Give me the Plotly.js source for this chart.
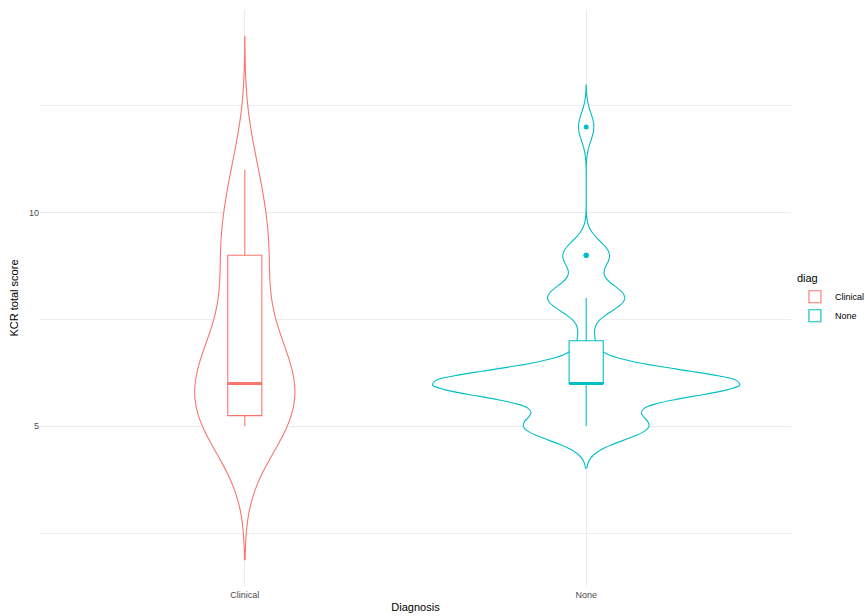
<!DOCTYPE html>
<html>
<head>
<meta charset="utf-8">
<script src="https://cdn.plot.ly/plotly-3.0.1.min.js"></script>
<style>
  html, body { margin: 0; padding: 0; background: #ffffff; }
  #chart { width: 865px; height: 616px; }
</style>
</head>
<body>
<div id="chart"></div>
<script>
// KCR total scores by diagnosis group
const categories = ['Clinical', 'None'];

const clinicalScores = [
  5, 5, 5, 5, 5, 5, 5,
  6, 6, 6, 6, 6, 6, 6,
  7, 7, 7, 7,
  8,
  9, 9, 9, 9,
  10, 10,
  11, 11
];

const noneScores = [
  5, 5, 5, 5, 5, 5, 5, 5,
  6, 6, 6, 6, 6, 6, 6, 6, 6, 6, 6, 6, 6, 6, 6, 6, 6, 6, 6, 6,
  7,
  8, 8, 8, 8, 8,
  9, 9, 9,
  12
];

const groupColors = ['#F8766D', '#00BFC4'];
const kernelBandwidths = [1.04, 0.325];   // gaussian KDE bandwidth per group
const violinWidths = [0.292, 0.9];        // equal-area scaling of the two densities
const boxWidth = 0.1;

// interpolated quantile, same rule as the box trace's "linear" quartile method
function quantile(values, p) {
  const s = values.slice().sort((a, b) => a - b);
  let n = p * s.length - 0.5;
  if (n < 0) return s[0];
  if (n > s.length - 1) return s[s.length - 1];
  const f = n % 1;
  return f * s[Math.ceil(n)] + (1 - f) * s[Math.floor(n)];
}

const groups = [clinicalScores, noneScores];
const violins = [], boxes = [], medians = [];
let yLo = Infinity, yHi = -Infinity;

groups.forEach((scores, i) => {
  const name = categories[i];
  const color = groupColors[i];
  const bw = kernelBandwidths[i];
  const xs = scores.map(() => name);
  const lo = Math.min(...scores) - 3 * bw;
  const hi = Math.max(...scores) + 3 * bw;
  yLo = Math.min(yLo, lo);
  yHi = Math.max(yHi, hi);

  violins.push({
    type: 'violin',
    x: xs,
    y: scores,
    name: name,
    bandwidth: bw,
    spanmode: 'manual',
    span: [lo, hi],
    scalemode: 'width',
    width: violinWidths[i],
    fillcolor: '#ffffff',
    line: { color: color, width: 1.1 },
    points: false,
    box: { visible: false },
    meanline: { visible: false },
    showlegend: false,
    hoverinfo: 'skip'
  });

  boxes.push({
    type: 'box',
    x: xs,
    y: scores,
    name: name,
    legendgroup: name,
    width: boxWidth,
    quartilemethod: 'linear',
    fillcolor: '#ffffff',
    line: { color: color, width: 1.1 },
    whiskerwidth: 0,
    boxpoints: 'outliers',
    jitter: 0,
    pointpos: 0,
    marker: { color: color, size: 5, line: { width: 0 } }
  });

  // heavier median bar drawn over each box
  const m = quantile(scores, 0.5);
  medians.push({
    type: 'box',
    x: [name],
    q1: [m], median: [m], q3: [m],
    lowerfence: [m], upperfence: [m],
    width: boxWidth,
    fillcolor: color,
    line: { color: color, width: 3 },
    whiskerwidth: 0,
    showlegend: false,
    hoverinfo: 'skip'
  });
});

const pad = (yHi - yLo) * 0.05;

const layout = {
  width: 865,
  height: 616,
  margin: { l: 40, r: 74, t: 10, b: 30 },
  paper_bgcolor: '#ffffff',
  plot_bgcolor: '#ffffff',
  font: { family: 'Liberation Sans, Arial, sans-serif', size: 9, color: '#4D4D4D' },
  violinmode: 'overlay',
  boxmode: 'overlay',
  showlegend: true,
  xaxis: {
    type: 'category',
    categoryorder: 'array',
    categoryarray: categories,
    range: [-0.6, 1.6],
    showgrid: true,
    gridcolor: '#EBEBEB',
    gridwidth: 1,
    zeroline: false,
    showline: false,
    ticks: '',
    ticklabelstandoff: 2,
    tickfont: { size: 9, color: '#4D4D4D' },
    title: { text: 'Diagnosis', font: { size: 11, color: '#000000' }, standoff: 4 }
  },
  yaxis: {
    range: [yLo - pad, yHi + pad],
    tick0: 0,
    dtick: 5,
    showgrid: true,
    gridcolor: '#EBEBEB',
    gridwidth: 1,
    zeroline: false,
    showline: false,
    ticks: '',
    tickfont: { size: 9, color: '#4D4D4D' },
    title: { text: 'KCR total score', font: { size: 11, color: '#000000' }, standoff: 8 },
    minor: { tick0: 0, dtick: 2.5, showgrid: true, gridcolor: '#EEEEEE', gridwidth: 1, ticks: '' }
  },
  legend: {
    xref: 'container',
    yref: 'container',
    x: 0.919,
    xanchor: 'left',
    y: 0.565,
    yanchor: 'top',
    bgcolor: 'rgba(0,0,0,0)',
    title: { text: 'diag', font: { size: 11, color: '#000000' } },
    font: { size: 9, color: '#000000' },
    tracegroupgap: 0,
    itemwidth: 30
  }
};

Plotly.newPlot('chart', violins.concat(boxes, medians), layout, { displayModeBar: false, staticPlot: true });
</script>
</body>
</html>
